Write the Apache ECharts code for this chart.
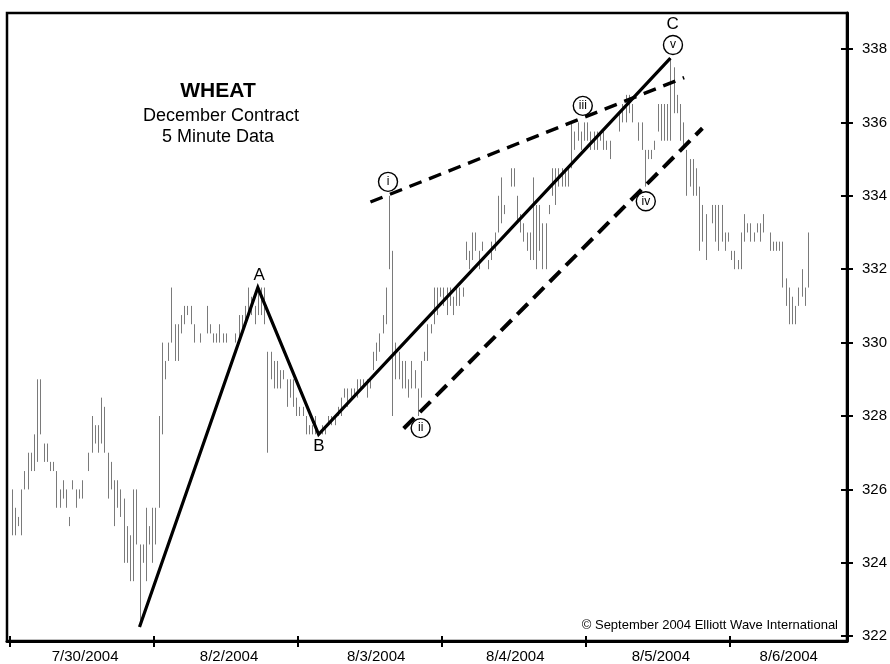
<!DOCTYPE html>
<html><head><meta charset="utf-8">
<script src="https://cdn.jsdelivr.net/npm/echarts@6/dist/echarts.min.js"></script>
<style>html,body{margin:0;padding:0;background:#fff}#c{width:890px;height:664px}</style>
</head><body><div id="c"></div>
<script>
// ---- DATA: 5-minute bars (slot = 5-min period counted from 7/30 open) ----
const barSlot = [
 0,1,2,3,4,5,6,7,8,9,10,11,12,13,14,15,16,17,18,19,20,21,22,24,25,26,27,28,29,30,31,32,33,34,35,36,37,38,39,40,41,42,43,44,
 45,46,47,48,49,50,51,52,53,54,55,56,57,59,61,62,63,64,65,66,67,70,71,72,73,74,75,76,77,78,79,80,81,82,83,84,85,86,87,88,89,
 90,91,92,93,94,95,97,98,99,100,101,102,103,104,105,106,107,108,109,110,111,112,113,114,115,116,117,118,119,120,121,122,123,124,125,126,127,128,129,130,131,132,133,134,
 135,136,137,138,139,140,141,142,143,144,145,146,147,149,150,151,152,153,154,156,157,158,159,160,161,162,163,164,165,166,167,168,169,170,171,172,173,174,175,176,177,178,179,
 180,181,182,183,184,185,186,187,190,191,192,193,194,196,197,198,199,200,201,202,203,204,205,206,207,208,209,210,211,212,213,214,215,216,217,219,220,221,222,223,224,
 225,226,227,228,229,230,231,232,233,234,235,237,238,239,240,241,242,243,244,245,246,247,248,249
];
const barLow = [
 324.75,324.75,325.0,324.75,326.0,326.0,326.5,326.5,326.75,327.5,326.75,326.75,326.5,326.5,325.5,325.5,325.75,325.5,325.0,326.0,325.5,325.75,325.75,
 326.5,327.0,327.25,327.0,327.25,327.0,325.75,326.0,325.0,325.5,325.25,324.0,324.0,323.5,323.5,324.5,322.25,324.0,323.5,324.5,324.0,
 324.5,325.5,327.5,329.0,329.5,330.0,329.5,329.5,330.25,330.5,330.75,330.5,330.0,330.0,330.25,330.25,330.0,330.0,330.0,330.0,330.0,
 330.0,330.0,330.25,330.5,330.75,330.75,330.5,330.75,330.75,330.5,327.0,329.0,328.75,328.75,328.75,329.0,328.25,328.5,328.25,328.0,
 328.0,328.0,327.5,327.5,327.5,327.5,327.5,327.5,327.75,327.75,327.75,328.0,328.0,328.5,328.25,328.5,328.5,328.5,328.75,328.75,328.5,328.75,
 329.25,329.5,329.75,330.25,330.5,332.0,328.0,329.0,329.0,328.75,328.75,328.5,328.75,328.75,328.0,328.5,329.5,329.5,330.25,330.5,330.75,331.25,
 331.0,330.75,331.0,330.75,331.0,331.0,331.25,332.25,332.0,332.25,332.5,332.0,332.5,332.0,332.25,332.5,333.0,333.25,333.5,
 334.25,334.25,333.25,333.0,332.75,332.5,332.25,332.25,332.0,332.5,332.0,332.0,333.5,334.0,333.75,334.25,334.25,334.25,334.25,334.75,335.25,335.5,335.25,335.5,
 335.5,335.25,335.25,335.25,335.5,335.25,335.25,335.0,335.75,336.0,336.0,336.25,336.0,
 335.5,335.25,334.25,335.0,335.0,335.25,335.75,335.5,335.5,335.5,335.5,336.25,336.25,335.5,335.25,334.0,334.25,334.0,334.0,332.5,332.75,332.25,
 333.25,332.75,332.5,332.75,332.5,332.75,
 332.25,332.0,332.0,332.0,332.75,333.0,332.75,332.75,333.0,332.75,333.0,
 332.5,332.5,332.5,332.5,331.5,331.0,330.5,330.5,330.5,331.0,331.25,331.0,331.5
];
const barHigh = [
 326.0,325.5,325.25,326.0,326.5,327.0,327.0,327.5,329.0,329.0,327.25,327.25,326.75,326.75,326.5,326.0,326.25,326.0,325.25,326.25,326.0,326.0,326.25,
 327.0,328.0,327.75,327.75,328.5,328.25,327.0,326.75,326.25,326.25,326.0,325.75,325.0,324.75,326.0,326.0,324.5,324.5,325.5,325.0,325.5,
 325.5,328.0,330.0,329.5,330.0,331.5,330.5,330.5,330.75,331.0,331.0,331.0,330.5,330.25,331.0,330.5,330.25,330.25,330.5,330.25,330.25,
 330.25,330.75,330.75,331.0,331.5,331.25,331.0,331.5,331.5,331.5,329.75,329.75,329.5,329.5,329.25,329.25,329.0,329.0,329.0,328.5,
 328.25,328.25,328.0,327.75,327.75,328.0,327.75,327.75,328.0,328.0,328.0,328.25,328.5,328.75,328.75,328.75,328.75,329.0,329.0,329.0,329.0,329.0,
 329.75,330.0,330.25,330.75,331.5,334.0,332.5,330.0,329.75,329.5,329.5,329.0,329.5,329.25,328.75,329.5,329.75,330.5,330.5,331.5,331.5,331.5,
 331.5,331.5,331.5,331.25,331.5,331.5,331.5,332.75,332.5,333.0,333.0,332.5,332.75,332.25,332.75,333.0,334.0,334.5,333.75,
 334.75,334.75,334.0,333.5,333.25,333.0,333.0,334.5,333.75,333.75,333.25,333.25,333.75,334.75,334.75,334.75,334.75,334.75,334.75,336.0,335.75,336.0,335.75,336.0,
 336.0,335.75,335.75,335.75,335.75,335.75,335.5,335.5,336.25,336.5,336.75,336.75,336.5,
 336.0,336.0,335.25,335.25,335.25,335.5,336.5,336.5,336.5,336.5,337.75,337.5,336.75,336.5,336.0,335.25,335.0,335.0,334.75,334.25,333.75,333.5,
 333.75,333.75,333.75,333.75,333.0,333.0,
 332.5,332.5,332.25,333.0,333.5,333.25,333.25,333.0,333.25,333.25,333.5,
 333.0,332.75,332.75,332.75,332.75,331.75,331.5,331.25,331.0,331.5,332.0,331.5,333.0
];

// Day boundaries (ticks) and date labels
const dayTicks = [-0.5, 44.5, 89.5, 134.5, 179.5, 224.5];
const dayLabelSlots = [23, 68, 114, 157.5, 203, 243];
const dayLabels = ['7/30/2004', '8/2/2004', '8/3/2004', '8/4/2004', '8/5/2004', '8/6/2004'];
const priceTicks = [322, 324, 326, 328, 330, 332, 334, 336, 338];

// Wave count lines
const waveSlot = [40, 77, 96, 206];
const waveValue = [322.25, 331.5, 327.5, 337.75];
const upperSlot = [112.2, 210.3];
const upperValue = [333.83, 337.22];
const lowerSlot = [122.6, 216.0];
const lowerValue = [327.66, 335.84];

// Labels
const abcNames = ['A', 'B', 'C'];
const abcSlot = [77.4, 96.1, 206.7];
const abcValue = [331.83, 327.18, 338.68];
const romanNames = ['i', 'ii', 'iii', 'iv', 'v'];
const romanSlot = [117.7, 127.9, 178.6, 198.3, 206.8];
const romanValue = [334.38, 327.67, 336.45, 333.85, 338.11];

if (barSlot.length !== barLow.length || barSlot.length !== barHigh.length) {
  throw new Error('length mismatch ' + barSlot.length + ' ' + barLow.length + ' ' + barHigh.length);
}

const X_MIN = -1.43, X_MAX = 261.2, Y_MIN = 321.87, Y_MAX = 338.98;
const FONT = "'Liberation Sans', Arial, Helvetica, sans-serif";

const chart = echarts.init(document.getElementById('c'), null, {renderer: 'canvas'});
const bars = barSlot.map((s, i) => [s, barLow[i], barHigh[i]]);

chart.setOption({
  animation: false,
  textStyle: {fontFamily: FONT, color: '#000'},
  grid: {left: 7, right: 40, top: 13, bottom: 22, show: true, borderColor: '#000', borderWidth: 2.5, backgroundColor: '#fff'},
  xAxis: [
    {
      type: 'value', min: X_MIN, max: X_MAX, position: 'bottom',
      axisLine: {show: true, onZero: false, lineStyle: {color: '#000', width: 3}},
      axisTick: {show: true, customValues: dayTicks, length: 6, lineStyle: {color: '#000', width: 2}},
      axisLabel: {show: true, customValues: dayLabelSlots, margin: 8, fontSize: 15, color: '#000', fontFamily: FONT,
        formatter: function (v) {
          for (let i = 0; i < dayLabelSlots.length; i++) if (Math.abs(dayLabelSlots[i] - v) < 0.01) return dayLabels[i];
          return '';
        }},
      splitLine: {show: false}
    },
    {
      type: 'value', min: X_MIN, max: X_MAX, position: 'bottom',
      axisLine: {show: false, onZero: false},
      axisTick: {show: true, inside: true, customValues: dayTicks, length: 5, lineStyle: {color: '#000', width: 2}},
      axisLabel: {show: false},
      splitLine: {show: false}
    }
  ],
  yAxis: [
    {
      type: 'value', min: Y_MIN, max: Y_MAX, position: 'right',
      axisLine: {show: true, onZero: false, lineStyle: {color: '#000', width: 3}},
      axisTick: {show: true, customValues: priceTicks, length: 6, lineStyle: {color: '#000', width: 2}},
      axisLabel: {show: true, customValues: priceTicks, margin: 15, fontSize: 15, color: '#000', fontFamily: FONT},
      splitLine: {show: false}
    },
    {
      type: 'value', min: Y_MIN, max: Y_MAX, position: 'right',
      axisLine: {show: false, onZero: false},
      axisTick: {show: true, inside: true, customValues: priceTicks, length: 6, lineStyle: {color: '#000', width: 2}},
      axisLabel: {show: false},
      splitLine: {show: false}
    }
  ],
  series: [
    {
      type: 'custom', name: 'bars', xAxisIndex: 0, yAxisIndex: 0, z: 1,
      data: bars,
      encode: {x: 0, y: [1, 2]},
      renderItem: function (params, api) {
        const lo = api.coord([api.value(0), api.value(1)]);
        const hi = api.coord([api.value(0), api.value(2)]);
        const x = Math.round(lo[0]) + 0.5;
        return {type: 'line', shape: {x1: x, y1: lo[1], x2: x, y2: hi[1]},
          style: {stroke: '#7a7a7a', lineWidth: 1}};
      }
    },
    {
      type: 'line', name: 'wave', z: 3, symbol: 'none', silent: true,
      data: waveSlot.map((s, i) => [s, waveValue[i]]),
      lineStyle: {color: '#000', width: 3.2, join: 'miter'}
    },
    {
      type: 'line', name: 'upper', z: 3, symbol: 'none', silent: true,
      data: upperSlot.map((s, i) => [s, upperValue[i]]),
      lineStyle: {color: '#000', width: 3.4, type: [13, 8], cap: 'butt'}
    },
    {
      type: 'line', name: 'lower', z: 3, symbol: 'none', silent: true,
      data: lowerSlot.map((s, i) => [s, lowerValue[i]]),
      lineStyle: {color: '#000', width: 4, type: [15, 8], cap: 'butt'}
    },
    {
      type: 'scatter', name: 'roman', z: 5, silent: true,
      symbol: 'circle', symbolSize: 19,
      itemStyle: {color: '#fff', borderColor: '#000', borderWidth: 1.4, opacity: 1},
      label: {show: true, position: 'inside', color: '#000', fontSize: 12, fontFamily: FONT,
        formatter: p => romanNames[p.dataIndex]},
      data: romanSlot.map((s, i) => [s, romanValue[i]])
    },
    {
      type: 'scatter', name: 'abc', z: 5, silent: true,
      symbol: 'circle', symbolSize: 2,
      itemStyle: {color: 'rgba(0,0,0,0)', borderWidth: 0, opacity: 1},
      label: {show: true, position: 'inside', color: '#000', opacity: 1, fontSize: 17, fontFamily: FONT,
        formatter: p => abcNames[p.dataIndex]},
      data: abcSlot.map((s, i) => [s, abcValue[i]])
    }
  ],
  graphic: [
    {type: 'text', x: 218, y: 91, z: 10, style: {text: 'WHEAT', fill: '#000', font: "bold 21px " + FONT, align: 'center', verticalAlign: 'middle'}},
    {type: 'text', x: 221, y: 116, z: 10, style: {text: 'December Contract', fill: '#000', font: "18px " + FONT, align: 'center', verticalAlign: 'middle'}},
    {type: 'text', x: 218, y: 137, z: 10, style: {text: '5 Minute Data', fill: '#000', font: "18px " + FONT, align: 'center', verticalAlign: 'middle'}},
    {type: 'text', x: 838, y: 625, z: 10, style: {text: '\u00A9 September 2004 Elliott Wave International', fill: '#000', font: "13px " + FONT, align: 'right', verticalAlign: 'middle'}}
  ]
});
</script></body></html>
